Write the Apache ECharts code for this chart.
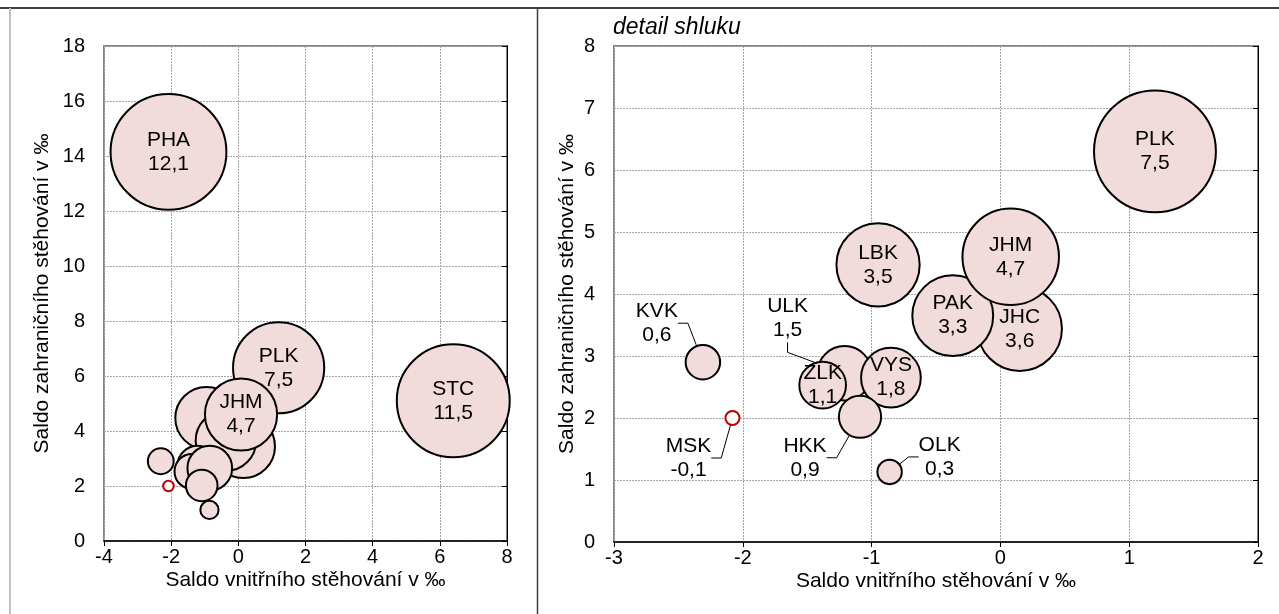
<!DOCTYPE html>
<html>
<head>
<meta charset="utf-8">
<script src="https://cdn.jsdelivr.net/npm/echarts@6/dist/echarts.min.js"></script>
<style>
html,body{margin:0;padding:0;background:#fff;}
#chart{width:1279px;height:614px;}
</style>
</head>
<body>
<div id="chart"></div>
<script>
// ---- data ----
const regions      = ['PHA','STC','PLK','LBK','JHC','PAK','JHM','ULK','ZLK','VYS','HKK','KVK','OLK','MSK'];
const internalSaldo = [-2.08, 6.40, 1.20, -0.95, 0.15, -0.37, 0.08, -1.21, -1.38, -0.85, -1.09, -2.31, -0.86, -2.08];
const foreignSaldo  = [14.15, 5.10, 6.30, 4.47, 3.44, 3.65, 4.60, 2.72, 2.53, 2.65, 2.02, 2.90, 1.13, 2.00];
const totalSaldo    = [12.1, 11.5, 7.5, 3.5, 3.6, 3.3, 4.7, 1.5, 1.1, 1.8, 0.9, 0.6, 0.3, -0.1];

const overviewX = [-4, 8, 2];   // min, max, interval
const overviewY = [0, 18, 2];
const detailX   = [-3, 2, 1];
const detailY   = [0, 8, 1];

const overviewLabelled = ['PHA','STC','PLK','JHM'];
const detailRegions    = ['PLK','LBK','JHC','PAK','JHM','ULK','ZLK','VYS','HKK','KVK','OLK','MSK'];
const detailInside     = ['PLK','JHM','LBK','PAK','JHC','ZLK','VYS'];

const xTitle = 'Saldo vnitřního stěhování v ‰';
const yTitle = 'Saldo zahraničního stěhování v ‰';
const detailNote = 'detail shluku';

// ---- styling ----
const FONT = "'Liberation Sans', Arial, sans-serif";
const fill = '#f2dcdb';
const calloutOffsets = { KVK: [-46, -39], ULK: [-57, -55], MSK: [-44, 40], HKK: [-55, 41], OLK: [50, -15] };
const fmt = v => v.toFixed(1).replace('.', ',');

function item(i, showLabel, callout) {
  const neg = totalSaldo[i] < 0;
  const d = {
    name: regions[i],
    value: [internalSaldo[i], foreignSaldo[i], totalSaldo[i]],
    itemStyle: neg ? { color: '#ffffff', borderColor: '#c00000', borderWidth: 2, opacity: 1 }
                   : { color: fill, borderColor: '#000', borderWidth: 2, opacity: 1 },
    label: { show: showLabel }
  };
  if (callout) d.labelLine = { show: true, length2: 10, lineStyle: { color: '#000', width: 1 } };
  return d;
}

const overviewData = regions.map((n, i) => item(i, overviewLabelled.includes(n), false));
const detailData = detailRegions.map(n => {
  const i = regions.indexOf(n);
  return item(i, true, !detailInside.includes(n));
});

const labelBase = {
  position: 'inside', color: '#000', fontSize: 21, lineHeight: 24, fontFamily: FONT,
  formatter: p => p.name + '\n' + fmt(p.value[2])
};

function xAxis(gi, r) {
  return {
    type: 'value', gridIndex: gi, min: r[0], max: r[1], interval: r[2],
    name: xTitle, nameLocation: 'middle', nameGap: 29, nameMoveOverlap: false,
    nameTextStyle: { fontSize: 21, color: '#000', fontFamily: FONT },
    axisLine: { show: true, onZero: false, lineStyle: { color: '#000', width: 1.5 } },
    axisTick: { show: true, length: 5, lineStyle: { color: '#000' } },
    axisLabel: { fontSize: 20, color: '#000', fontFamily: FONT, margin: 6 },
    splitLine: { show: true, lineStyle: { color: '#a6a6a6', type: [2, 1], width: 1 } }
  };
}
function yAxisLabels(gi, r, gap) {
  return {
    type: 'value', gridIndex: gi, min: r[0], max: r[1], interval: r[2], position: 'left',
    name: yTitle, nameLocation: 'middle', nameGap: gap, nameMoveOverlap: false,
    nameTextStyle: { fontSize: 21, color: '#000', fontFamily: FONT },
    axisLine: { show: false }, axisTick: { show: false },
    axisLabel: { fontSize: 20, color: '#000', fontFamily: FONT, margin: 19 },
    splitLine: { show: true, lineStyle: { color: '#a6a6a6', type: [2, 1], width: 1 } }
  };
}
function yAxisZero(gi, r) {
  return {
    type: 'value', gridIndex: gi, min: r[0], max: r[1], interval: r[2], position: 'right',
    axisLine: { show: true, onZero: true, lineStyle: { color: '#000', width: 1 } },
    axisTick: { show: true, inside: true, length: 5, lineStyle: { color: '#000' } },
    axisLabel: { show: false }, splitLine: { show: false }
  };
}

const chart = echarts.init(document.getElementById('chart'), null, { renderer: 'canvas' });
chart.setOption({
  animation: false,
  backgroundColor: '#fff',
  textStyle: { fontFamily: FONT },
  grid: [
    { left: 104, top: 46, width: 403, height: 495, show: true, borderColor: '#858585', borderWidth: 2, containLabel: false },
    { left: 614, top: 46, width: 644, height: 496, show: true, borderColor: '#858585', borderWidth: 2, containLabel: false }
  ],
  xAxis: [xAxis(0, overviewX), xAxis(1, detailX)],
  yAxis: [yAxisLabels(0, overviewY, 51), yAxisZero(0, overviewY), yAxisLabels(1, detailY, 36), yAxisZero(1, detailY)],
  series: [
    {
      type: 'scatter', xAxisIndex: 0, yAxisIndex: 0, data: overviewData,
      symbolSize: v => Math.sqrt(Math.abs(v[2])) * 33.3,
      label: labelBase, emphasis: { disabled: true }, z: 5
    },
    {
      type: 'scatter', xAxisIndex: 1, yAxisIndex: 2, data: detailData,
      symbolSize: v => Math.sqrt(Math.abs(v[2])) * 44.5,
      label: labelBase, emphasis: { disabled: true }, z: 5,
      labelLayout: p => {
        const o = calloutOffsets[detailRegions[p.dataIndex]];
        return o ? { dx: o[0], dy: o[1] } : {};
      }
    }
  ],
  graphic: [
    { type: 'line', shape: { x1: 0, y1: 8, x2: 1279, y2: 8 }, style: { stroke: '#404040', lineWidth: 2 }, silent: true },
    { type: 'line', shape: { x1: 10, y1: 8, x2: 10, y2: 614 }, style: { stroke: '#c0c0c0', lineWidth: 2 }, silent: true },
    { type: 'line', shape: { x1: 537.5, y1: 8, x2: 537.5, y2: 614 }, style: { stroke: '#404040', lineWidth: 1.5 }, silent: true },
    { type: 'text', left: 613, top: 16, style: { text: detailNote, font: "italic 23px 'Liberation Sans', Arial, sans-serif", fill: '#000' }, silent: true }
  ]
});
</script>
</body>
</html>
